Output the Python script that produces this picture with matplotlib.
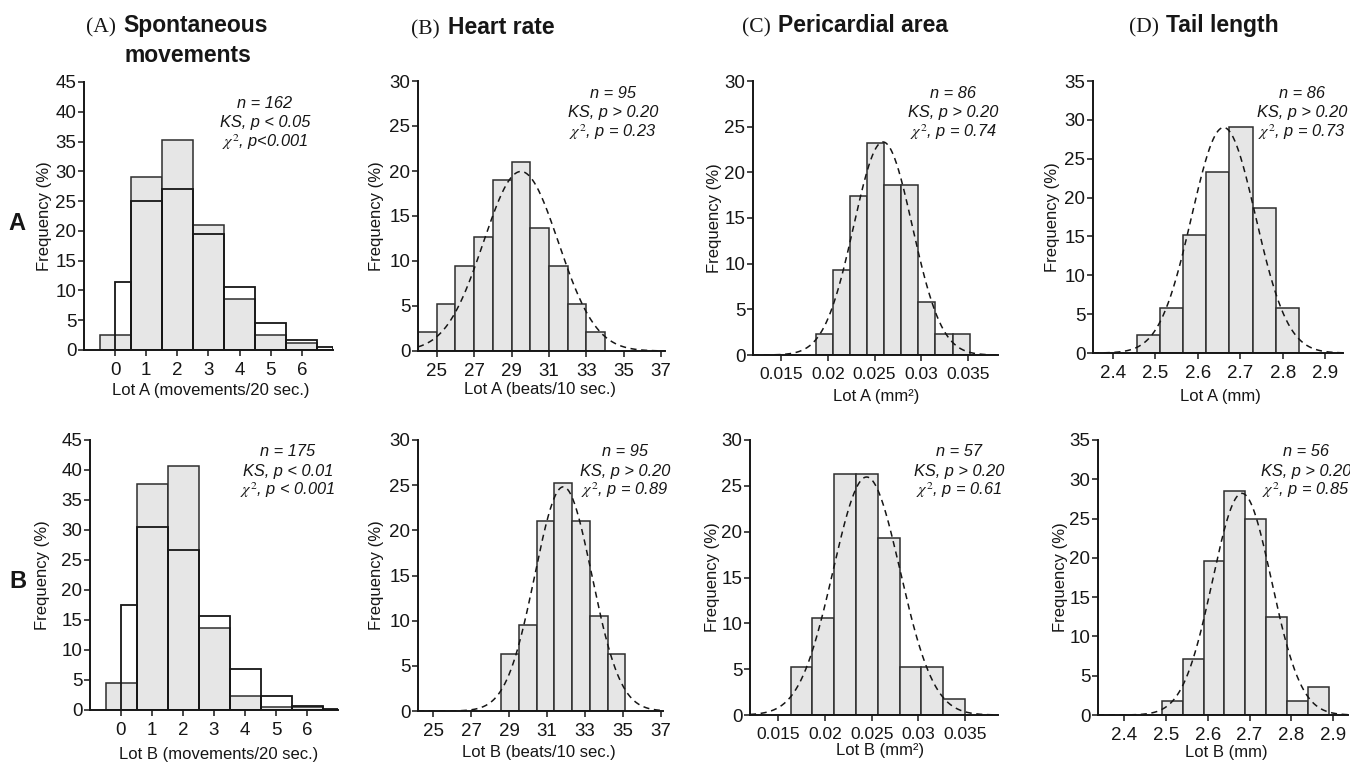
import numpy as np
import matplotlib
matplotlib.use("Agg")
import matplotlib.pyplot as plt

plt.rcParams["font.family"] = ["Liberation Sans", "DejaVu Sans"]
plt.rcParams["mathtext.fontset"] = "stix"

# ---------------------------------------------------------------- data
# Spontaneous movements: observed % per count (0..6) and expected Poisson %
mov_counts = [0, 1, 2, 3, 4, 5, 6]
mov_obs_A = [2.47, 29.0, 35.2, 21.0, 8.64, 2.47, 1.23]
mov_obs_B = [4.57, 37.7, 40.6, 13.7, 2.29, 0.57, 0.57]
mov_exp_edges = [0.0, 0.5, 1.5, 2.5, 3.5, 4.5, 5.5, 6.5, 7.0]
mov_exp_A = [11.5, 25.0, 27.0, 19.5, 10.6, 4.6, 1.6, 0.5]
mov_exp_B = [17.5, 30.5, 26.7, 15.6, 6.9, 2.4, 0.7, 0.2]

# Heart rate (beats/10 sec.)
hr_start_A, hr_width_A = 24.0, 1.0
hr_freq_A = [2.11, 5.26, 9.47, 12.63, 18.95, 21.05, 13.68, 9.47, 5.26, 2.11]
hr_fit_A = (29.5, 2.0)           # mean, sd
hr_start_B, hr_width_B = 28.58, 0.933
hr_freq_B = [6.32, 9.47, 21.05, 25.26, 21.05, 10.53, 6.32]
hr_fit_B = (31.85, 1.50)

# Pericardial area (mm2)
pc_start_A, pc_width_A = 0.0187, 0.00183
pc_freq_A = [2.33, 9.30, 17.44, 23.26, 18.60, 18.60, 5.81, 2.33, 2.33]
pc_fit_A = (0.0259, 0.00313)
pc_start_B, pc_width_B = 0.01633, 0.00233
pc_freq_B = [5.26, 10.53, 26.32, 26.32, 19.30, 5.26, 5.26, 1.75]
pc_fit_B = (0.02446, 0.00358)

# Tail length (mm)
tl_start_A, tl_width_A = 2.456, 0.0547
tl_freq_A = [2.33, 5.81, 15.12, 23.26, 29.07, 18.60, 5.81]
tl_fit_A = (2.661, 0.0752)
tl_start_B, tl_width_B = 2.49, 0.05
tl_freq_B = [1.79, 7.14, 19.64, 28.57, 25.00, 12.50, 1.79, 3.57]
tl_fit_B = (2.682, 0.0707)

stats = {
    "movA": ["n = 162", "KS, p < 0.05", r"$\chi^2$, p<0.001"],
    "movB": ["n = 175", "KS, p < 0.01", r"$\chi^2$, p < 0.001"],
    "hrA": ["n = 95", "KS, p > 0.20", r"$\chi^2$, p = 0.23"],
    "hrB": ["n = 95", "KS, p > 0.20", r"$\chi^2$, p = 0.89"],
    "pcA": ["n = 86", "KS, p > 0.20", r"$\chi^2$, p = 0.74"],
    "pcB": ["n = 57", "KS, p > 0.20", r"$\chi^2$, p = 0.61"],
    "tlA": ["n = 86", "KS, p > 0.20", r"$\chi^2$, p = 0.73"],
    "tlB": ["n = 56", "KS, p > 0.20", r"$\chi^2$, p = 0.85"],
}

# ---------------------------------------------------------------- layout
W, H = 1350, 763
fig = plt.figure(figsize=(W / 100, H / 100), dpi=100)
INK = "#161616"
BAR_FACE = "#e6e6e6"
BAR_EDGE = "#2e2e2e"


def fx(px):
    return px / W


def fy(py):
    return 1 - py / H


def make_axes(x0, x1, yt, yb, xtick_size=13.5):
    ax = fig.add_axes([fx(x0), fy(yb), (x1 - x0) / W, (yb - yt) / H])
    for s in ("top", "right"):
        ax.spines[s].set_visible(False)
    for s in ("left", "bottom"):
        ax.spines[s].set_linewidth(1.4)
        ax.spines[s].set_color(INK)
    ax.tick_params(direction="out", length=4, width=1.1, colors=INK)
    ax.tick_params(axis="x", labelsize=xtick_size, pad=4.5)
    ax.tick_params(axis="y", labelsize=13.5, pad=1.5)
    ax.set_facecolor("none")
    return ax, (x0, x1, yt, yb)


def put_labels(ax, box, xlabel, xl_px, ylabel_x_px):
    x0, x1, yt, yb = box
    ax.set_xlabel(xlabel, fontsize=12, color=INK)
    ax.xaxis.set_label_coords((xl_px[0] - x0) / (x1 - x0),
                              (yb - xl_px[1]) / (yb - yt))
    ax.xaxis.label.set_va("center")
    ax.set_ylabel("Frequency (%)", fontsize=12, color=INK)
    ax.yaxis.set_label_coords((ylabel_x_px - x0) / (x1 - x0), 0.5)
    ax.yaxis.label.set_va("center")


def put_stats(lines, cx, base_y, step=19.6):
    for i, s in enumerate(lines):
        fig.text(fx(cx), fy(base_y + i * step), s, ha="center",
                 va="baseline", fontsize=11.8, style="italic", color=INK)


def normal_panel(ax, start, width, freq, fit, xlim, ylim, ticks, ticklabels):
    edges = start + width * np.arange(len(freq))
    ax.bar(edges, freq, width=width, align="edge", color=BAR_FACE,
           edgecolor=BAR_EDGE, linewidth=1.1, zorder=2)
    mu, sd = fit
    xs = np.linspace(xlim[0], xlim[1], 600)
    ys = 100 * width * np.exp(-0.5 * ((xs - mu) / sd) ** 2) / (sd * np.sqrt(2 * np.pi))
    ax.plot(xs, ys, color=INK, lw=1.1, ls=(0, (4, 3)), zorder=3)
    ax.set_xlim(*xlim)
    ax.set_ylim(*ylim)
    ax.set_yticks(np.arange(0, ylim[1] + 0.1, 5))
    ax.set_xticks(ticks)
    ax.set_xticklabels(ticklabels)


def movement_panel(ax, obs, exp):
    ax.bar(mov_counts, obs, width=1.0, color=BAR_FACE, edgecolor=BAR_EDGE,
           linewidth=1.1, zorder=2)
    left = mov_exp_edges[:-1]
    widths = np.diff(mov_exp_edges)
    ax.bar(left, exp, width=widths, align="edge", fill=False,
           edgecolor=INK, linewidth=1.3, zorder=3)
    ax.set_xlim(-1, 7)
    ax.set_ylim(0, 45)
    ax.set_yticks(np.arange(0, 46, 5))
    ax.set_xticks(mov_counts)


# ---- column A: spontaneous movements
ax, box = make_axes(84, 333, 82, 350)
movement_panel(ax, mov_obs_A, mov_exp_A)
put_labels(ax, box, "Lot A (movements/20 sec.)", (211, 390), 45)
put_stats(stats["movA"], 265, 107.5)

ax, box = make_axes(90, 338, 440, 710)
movement_panel(ax, mov_obs_B, mov_exp_B)
put_labels(ax, box, "Lot B (movements/20 sec.)", (219, 755), 42)
put_stats(stats["movB"], 288, 456)

# ---- column B: heart rate
hr_ticks = [25, 27, 29, 31, 33, 35, 37]
ax, box = make_axes(418, 665, 81, 351)
normal_panel(ax, hr_start_A, hr_width_A, hr_freq_A, hr_fit_A, (24, 37.2),
             (0, 30), hr_ticks, [str(t) for t in hr_ticks])
put_labels(ax, box, "Lot A (beats/10 sec.)", (540, 390), 377)
put_stats(stats["hrA"], 613, 97.5)

ax, box = make_axes(418, 663, 440, 711)
normal_panel(ax, hr_start_B, hr_width_B, hr_freq_B, hr_fit_B, (24.2, 37.1),
             (0, 30), hr_ticks, [str(t) for t in hr_ticks])
put_labels(ax, box, "Lot B (beats/10 sec.)", (539, 753), 377)
put_stats(stats["hrB"], 625, 456)

# ---- column C: pericardial area
pc_ticks = [0.015, 0.02, 0.025, 0.03, 0.035]
pc_labels = ["0.015", "0.02", "0.025", "0.03", "0.035"]
ax, box = make_axes(753, 998, 81, 355, xtick_size=12.5)
normal_panel(ax, pc_start_A, pc_width_A, pc_freq_A, pc_fit_A, (0.012, 0.0382),
             (0, 30), pc_ticks, pc_labels)
put_labels(ax, box, "Lot A (mm²)", (876, 396), 715)
put_stats(stats["pcA"], 953, 97.5)

ax, box = make_axes(750, 998, 440, 715, xtick_size=12.5)
normal_panel(ax, pc_start_B, pc_width_B, pc_freq_B, pc_fit_B, (0.012, 0.0385),
             (0, 30), pc_ticks, pc_labels)
put_labels(ax, box, "Lot B (mm²)", (880, 751), 712)
put_stats(stats["pcB"], 959, 456)

# ---- column D: tail length
tl_ticks = [2.4, 2.5, 2.6, 2.7, 2.8, 2.9]
tl_labels = ["2.4", "2.5", "2.6", "2.7", "2.8", "2.9"]
ax, box = make_axes(1093, 1343, 81, 353)
normal_panel(ax, tl_start_A, tl_width_A, tl_freq_A, tl_fit_A, (2.3535, 2.942),
             (0, 35), tl_ticks, tl_labels)
put_labels(ax, box, "Lot A (mm)", (1220, 396), 1053)
put_stats(stats["tlA"], 1302, 97.5)

ax, box = make_axes(1098, 1348, 440, 715)
normal_panel(ax, tl_start_B, tl_width_B, tl_freq_B, tl_fit_B, (2.337, 2.936),
             (0, 35), tl_ticks, tl_labels)
put_labels(ax, box, "Lot B (mm)", (1226, 752), 1060)
put_stats(stats["tlB"], 1306, 456)

# ---------------------------------------------------------------- titles
serif = ["Liberation Serif", "DejaVu Serif"]
titles = [
    ("(A)", "Spontaneous", 86, 123, 32),
    ("(B)", "Heart rate", 411, 448, 34),
    ("(C)", "Pericardial area", 742, 778, 32),
    ("(D)", "Tail length", 1129, 1166, 32),
]
for tag, name, xt, xn, yb in titles:
    fig.text(fx(xt), fy(yb), tag, family=serif, fontsize=15.5, ha="left",
             va="baseline", color=INK)
    fig.text(fx(xn), fy(yb), name, fontsize=16.5, weight="bold", ha="left",
             va="baseline", color=INK)
fig.text(fx(124), fy(62), "movements", fontsize=16.5, weight="bold",
         ha="left", va="baseline", color=INK)

# row markers
fig.text(fx(17), fy(223), "A", fontsize=17, weight="bold", ha="center",
         va="center", color=INK)
fig.text(fx(18), fy(582), "B", fontsize=17, weight="bold", ha="center",
         va="center", color=INK)

fig.savefig("out.png", dpi=100)
